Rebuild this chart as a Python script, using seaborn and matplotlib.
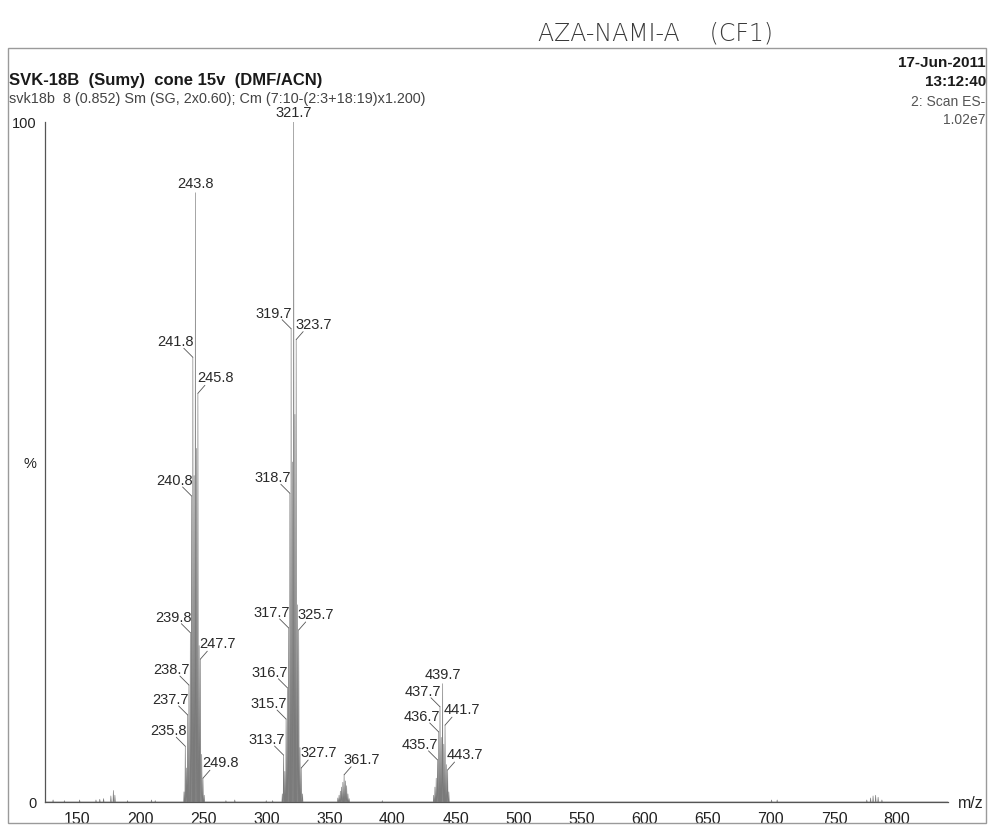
import matplotlib
matplotlib.use("Agg")
import matplotlib.pyplot as plt
from matplotlib.patches import Rectangle
import numpy as np
import pandas as pd
import seaborn as sns

# ---- spectrum data: centroid m/z and relative intensity (%) ----
cluster_235_250_mz = [234.8, 235.8, 236.8, 237.7, 238.7, 239.8, 240.8, 241.8, 242.8,
                      243.8, 244.8, 245.8, 246.8, 247.7, 248.8, 249.8, 250.8]
cluster_235_250_int = [1.5, 8.2, 5.0, 12.8, 17.2, 24.9, 45.0, 65.4, 48.0,
                       89.6, 52.0, 60.1, 23.0, 21.0, 7.0, 3.5, 1.0]

cluster_313_328_mz = [312.7, 313.7, 314.7, 315.7, 316.7, 317.7, 318.7, 319.7, 320.7,
                      321.7, 322.7, 323.7, 324.7, 325.7, 326.7, 327.7, 328.7]
cluster_313_328_int = [1.2, 6.9, 4.5, 12.2, 16.8, 25.6, 45.4, 69.6, 50.0,
                       100.0, 57.0, 68.0, 29.0, 25.3, 8.0, 5.0, 1.2]

cluster_355_366_mz = [356.7, 357.7, 358.7, 359.7, 360.7, 361.7, 362.7, 363.7, 364.7, 365.7]
cluster_355_366_int = [0.6, 1.0, 1.6, 2.2, 2.9, 4.0, 3.1, 2.4, 1.2, 0.5]

cluster_433_445_mz = [432.7, 433.7, 434.7, 435.7, 436.7, 437.7, 438.7, 439.7,
                      440.7, 441.7, 442.7, 443.7, 444.7]
cluster_433_445_int = [1.0, 2.2, 3.5, 6.2, 10.3, 14.0, 9.5, 17.4,
                       8.5, 11.3, 5.5, 4.7, 1.5]

minor_mz = [131.0, 140.0, 152.0, 165.0, 168.0, 171.0, 176.8, 178.8, 180.0, 190.0,
            209.0, 212.0, 268.0, 275.0, 300.0, 305.0, 392.0, 700.5, 705.0,
            776.0, 779.0, 781.0, 783.0, 785.0, 788.0]
minor_int = [0.3, 0.2, 0.3, 0.3, 0.4, 0.5, 0.9, 1.7, 1.0, 0.2,
             0.3, 0.2, 0.2, 0.3, 0.2, 0.2, 0.2, 0.3, 0.3,
             0.3, 0.6, 0.9, 1.0, 0.7, 0.3]

# annotated peaks and side of the label relative to the peak
label_mz = [243.8, 241.8, 245.8, 240.8, 239.8, 247.7, 238.7, 237.7, 235.8, 249.8,
            321.7, 319.7, 323.7, 318.7, 317.7, 325.7, 316.7, 315.7, 313.7, 327.7,
            361.7,
            439.7, 437.7, 441.7, 436.7, 435.7, 443.7]
label_side = ["c", "l", "r", "l", "l", "r", "l", "l", "l", "r",
              "c", "l", "r", "l", "l", "r", "l", "l", "l", "r",
              "r",
              "c", "l", "r", "l", "l", "r"]

x_ticks = [150, 200, 250, 300, 350, 400, 450, 500, 550, 600, 650, 700, 750, 800]

peaks = pd.DataFrame({
    "mz": cluster_235_250_mz + cluster_313_328_mz + cluster_355_366_mz
          + cluster_433_445_mz + minor_mz,
    "intensity": cluster_235_250_int + cluster_313_328_int + cluster_355_366_int
                 + cluster_433_445_int + minor_int,
}).sort_values("mz").reset_index(drop=True)

# continuum trace: each centroid drawn as a narrow peak profile
half_width = 0.3
prof_x, prof_y = [], []
for m, h in zip(peaks["mz"], peaks["intensity"]):
    prof_x += [m - half_width, m, m + half_width]
    prof_y += [0.0, h, 0.0]
profile = pd.DataFrame({"mz": [124.6] + prof_x + [840.4],
                        "intensity": [0.0] + prof_y + [0.0]})

sns.set_theme(style="white")
plt.rcParams["font.family"] = ["Liberation Sans", "DejaVu Sans"]

W, H = 989, 827
fig = plt.figure(figsize=(W / 100, H / 100), dpi=100)
fig.patch.set_facecolor("white")

x0, x1, y0, y1 = 45, 948, 802, 122
ax = fig.add_axes([x0 / W, 1 - y0 / H, (x1 - x0) / W, (y0 - y1) / H])
ax.set_facecolor("white")

ax.fill_between(profile["mz"], profile["intensity"], 0, color="#d2d2d2", lw=0)
sns.lineplot(data=profile, x="mz", y="intensity", sort=False, estimator=None,
             color="#7a7a7a", lw=0.45, ax=ax)

ax.set_xlim(124.6, 840.4)
ax.set_ylim(0, 100)
ax.set_xlabel("")
ax.set_ylabel("")

for s in ["top", "right"]:
    ax.spines[s].set_visible(False)
for s in ["left", "bottom"]:
    ax.spines[s].set_color("#555555")
    ax.spines[s].set_linewidth(0.9)

ax.set_xticks(x_ticks)
ax.set_xticklabels([str(t) for t in x_ticks])
ax.set_xticks(np.arange(130, 841, 10), minor=True)
ax.tick_params(axis="x", which="major", direction="out", length=6, width=0.8,
               color="#555555", labelsize=11.5, labelcolor="#222222", pad=1.5)
ax.tick_params(axis="x", which="minor", direction="out", length=3.5, width=0.7,
               color="#555555")
ax.set_yticks([0, 50, 100])
ax.set_yticklabels(["0", "%", "100"])
ax.tick_params(axis="y", which="major", direction="out", length=4, width=0.8,
               color="#555555", labelsize=10.5, labelcolor="#222222", pad=2)

# peak labels with leader lines
px = 0.72  # points per pixel at 100 dpi
lookup = dict(zip(peaks["mz"], peaks["intensity"]))
lab_fs = 10.5
for m, side in zip(label_mz, label_side):
    h = lookup[m]
    txt = f"{m:.1f}"
    if side == "c":
        ax.annotate(txt, xy=(m, h), xytext=(0, 2 * px), textcoords="offset points",
                    ha="center", va="bottom", fontsize=lab_fs, color="#2a2a2a",
                    annotation_clip=False)
    elif side == "l":
        ax.annotate("", xy=(m, h), xytext=(-9 * px, 9 * px), textcoords="offset points",
                    arrowprops=dict(arrowstyle="-", lw=0.6, color="#555555",
                                    shrinkA=0, shrinkB=0), annotation_clip=False)
        ax.annotate(txt, xy=(m, h), xytext=(1 * px, 8 * px), textcoords="offset points",
                    ha="right", va="bottom", fontsize=lab_fs, color="#2a2a2a",
                    annotation_clip=False)
    else:
        ax.annotate("", xy=(m, h), xytext=(7 * px, 8 * px), textcoords="offset points",
                    arrowprops=dict(arrowstyle="-", lw=0.6, color="#555555",
                                    shrinkA=0, shrinkB=0), annotation_clip=False)
        ax.annotate(txt, xy=(m, h), xytext=(-1 * px, 8 * px), textcoords="offset points",
                    ha="left", va="bottom", fontsize=lab_fs, color="#2a2a2a",
                    annotation_clip=False)

# axis unit
fig.text(958 / W, 1 - 803 / H, "m/z", ha="left", va="center", fontsize=11.5,
         color="#222222")

# report header
fig.text(9 / W, 1 - 80 / H, "SVK-18B  (Sumy)  cone 15v  (DMF/ACN)", ha="left",
         va="center", fontsize=12, fontweight="bold", color="#1a1a1a")
fig.text(9 / W, 1 - 99 / H,
         "svk18b  8 (0.852) Sm (SG, 2x0.60); Cm (7:10-(2:3+18:19)x1.200)",
         ha="left", va="center", fontsize=10.4, color="#444444")
fig.text(986 / W, 1 - 63 / H, "17-Jun-2011", ha="right", va="center",
         fontsize=11, fontweight="bold", color="#1a1a1a")
fig.text(986 / W, 1 - 82 / H, "13:12:40", ha="right", va="center",
         fontsize=11, fontweight="bold", color="#1a1a1a")
fig.text(985 / W, 1 - 102 / H, "2: Scan ES-", ha="right", va="center",
         fontsize=10, color="#555555")
fig.text(985 / W, 1 - 120 / H, "1.02e7", ha="right", va="center",
         fontsize=10, color="#555555")

# sample note above the frame
fig.text(538 / W, 1 - 33 / H, "AZA-NAMI-A    (CF1)", ha="left", va="center",
         fontsize=17, fontfamily="DejaVu Sans", fontweight="light",
         color="#3a3a3a")

# page frame
fig.patches.append(Rectangle((8 / W, 1 - 823 / H), (986 - 8) / W, (823 - 48) / H,
                             transform=fig.transFigure, fill=False,
                             edgecolor="#9a9a9a", lw=1.0))

fig.savefig("out.png", dpi=100, facecolor="white")
